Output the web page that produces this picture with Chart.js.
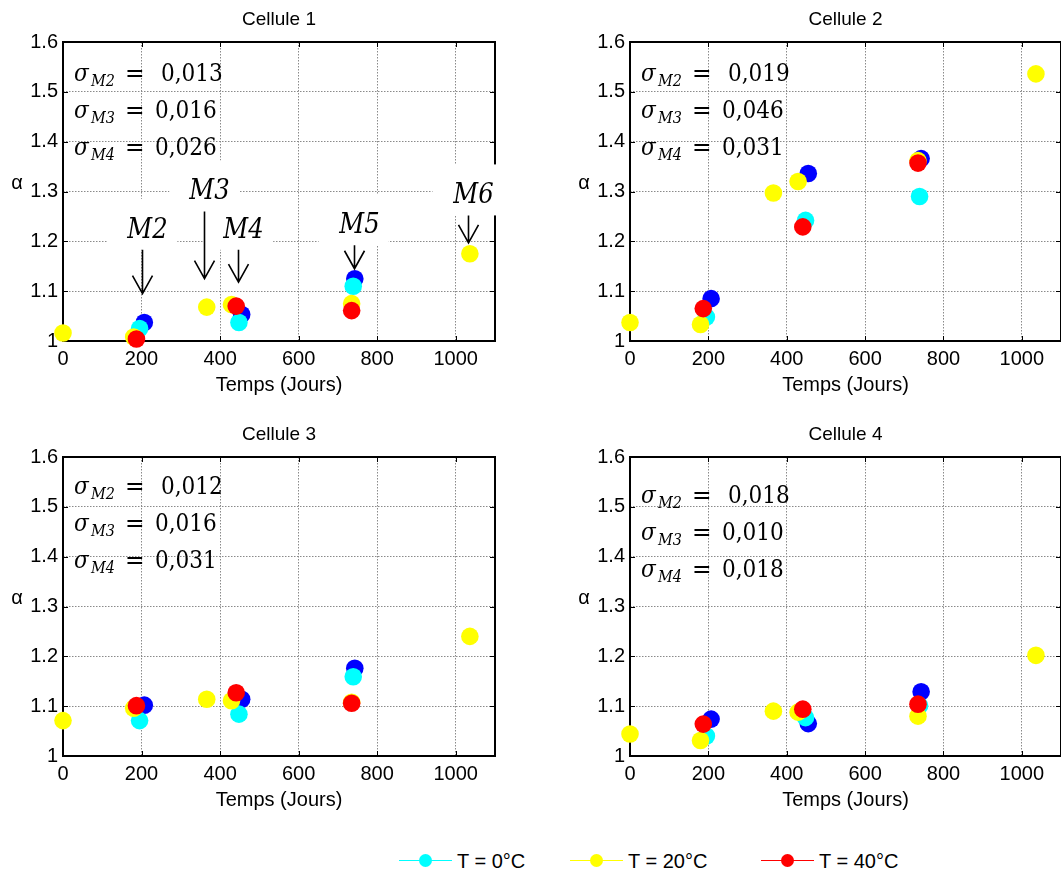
<!DOCTYPE html>
<html>
<head>
<meta charset="utf-8">
<script src="https://cdn.jsdelivr.net/npm/chart.js@4.4.1/dist/chart.umd.min.js"></script>
<style>
  html, body { margin: 0; padding: 0; background: #fff; }
  body { position: relative; width: 1061px; height: 874px; overflow: hidden; }
  canvas { position: absolute; }
  .leg { position: absolute; top: 849px; height: 24px; font: 20px "Liberation Sans", Arial, sans-serif; color: #000; }
  .leg .ln { position: absolute; top: 11px; width: 53px; height: 0; border-top: 1.5px solid; }
  .leg .dot { position: absolute; top: 5px; width: 13px; height: 13px; border-radius: 50%; }
  .leg .tx { position: absolute; top: 0; white-space: nowrap; line-height: 24px; }
</style>
</head>
<body>
<canvas id="cell1" width="530" height="410" style="left:0;top:0"></canvas>
<canvas id="cell2" width="560" height="410" style="left:530px;top:0"></canvas>
<canvas id="cell3" width="530" height="410" style="left:0;top:415px"></canvas>
<canvas id="cell4" width="560" height="410" style="left:530px;top:415px"></canvas>
<div id="legend"></div>

<script>
// ---------- données ----------
const cellTitles = ["Cellule 1", "Cellule 2", "Cellule 3", "Cellule 4"];
const xTicks = [0, 200, 400, 600, 800, 1000];
const yTicks = [1, 1.1, 1.2, 1.3, 1.4, 1.5, 1.6];

// jours de mesure par série
const daysT20 = [0, 180, 366, 429, 735, 1036];
const daysT40 = [187, 441, 735];
const daysT0 = [195, 448, 739];
const daysBlue = [207, 455, 743];

// alpha, une ligne par cellule
const alphaT20 = [
  [1.016, 1.008, 1.068, 1.073, 1.075, 1.175],
  [1.037, 1.033, 1.297, 1.320, 1.362, 1.536],
  [1.071, 1.096, 1.114, 1.111, 1.108, 1.240],
  [1.044, 1.031, 1.090, 1.088, 1.080, 1.202]
];
const alphaT40 = [
  [1.004, 1.070, 1.061],
  [1.065, 1.229, 1.357],
  [1.101, 1.127, 1.106],
  [1.064, 1.094, 1.104]
];
const alphaT0 = [
  [1.025, 1.037, 1.110],
  [1.048, 1.242, 1.290],
  [1.071, 1.084, 1.159],
  [1.040, 1.077, 1.101]
];
const alphaBlue = [
  [1.037, 1.053, 1.125],
  [1.085, 1.336, 1.366],
  [1.102, 1.114, 1.176],
  [1.074, 1.065, 1.129]
];

// écarts-types affichés
const sigmaM2 = ["0,013", "0,019", "0,012", "0,018"];
const sigmaM3 = ["0,016", "0,046", "0,016", "0,010"];
const sigmaM4 = ["0,026", "0,031", "0,031", "0,018"];
const sigmaTop = [1.522, 1.522, 1.526, 1.508];

// flèches M2..M6 (cellule 1 seulement)
const markLabels = ["M2", "M3", "M4", "M5", "M6"];
const markDays = [202, 360, 446, 740, 1030];
const markTop = [1.183, 1.26, 1.183, 1.192, 1.252];
const markTip = [1.095, 1.125, 1.118, 1.145, 1.197];

// légende
const legendLabels = ["T = 0°C", "T = 20°C", "T = 40°C"];
const legendColors = ["#00ffff", "#ffff00", "#ff0000"];

// ---------- mise en page ----------
const SANS = '"Liberation Sans", Arial, sans-serif';
const SERIF = '"DejaVu Serif Condensed", "DejaVu Serif", serif';

const matlabAxes = {
  id: "matlabAxes",
  beforeDatasetsDraw(chart) {
    const { ctx, chartArea: a, scales: { x, y } } = chart;
    ctx.save();
    ctx.strokeStyle = "#000";
    ctx.lineWidth = 1;
    ctx.beginPath();
    xTicks.forEach(v => {
      const px = Math.round(x.getPixelForValue(v)) + 0.5;
      ctx.moveTo(px, a.bottom); ctx.lineTo(px, a.bottom - 5);
      ctx.moveTo(px, a.top); ctx.lineTo(px, a.top + 5);
    });
    yTicks.forEach(v => {
      const py = Math.round(y.getPixelForValue(v)) + 0.5;
      ctx.moveTo(a.left, py); ctx.lineTo(a.left + 5, py);
      ctx.moveTo(a.right, py); ctx.lineTo(a.right - 5, py);
    });
    ctx.stroke();
    ctx.lineWidth = 2;
    ctx.strokeRect(a.left, a.top, a.right - a.left, a.bottom - a.top);
    ctx.restore();
  },
  afterDatasetsDraw(chart, args, opts) {
    const { ctx, chartArea: a, scales: { x, y } } = chart;
    const i = opts.cell;
    ctx.save();
    ctx.fillStyle = "#000";

    // sigma
    const sx = a.left + 11;
    const rows = [["M2", sigmaM2[i]], ["M3", sigmaM3[i]], ["M4", sigmaM4[i]]];
    rows.forEach((r, k) => {
      const by = y.getPixelForValue(sigmaTop[i]) + k * 37;
      ctx.textBaseline = "alphabetic";
      ctx.textAlign = "left";
      ctx.font = "italic 24px " + SERIF;
      ctx.fillText("σ", sx, by);
      ctx.font = "italic 16px " + SERIF;
      ctx.fillText(r[0], sx + 17, by + 5);
      ctx.font = "26px " + SERIF;
      ctx.fillText("=", sx + 51, by + 1);
      ctx.font = "24px " + SERIF;
      ctx.fillText(r[1], sx + (k === 0 ? 87 : 81), by);
    });

    // flèches M2..M6
    if (i === 0) {
      ctx.fillStyle = "#fff";
      markDays.forEach((d, k) => {
        const px = x.getPixelForValue(d);
        const top = y.getPixelForValue(markTop[k]);
        ctx.fillRect(px - 35, top - 51, 70, 51);
      });
      ctx.fillStyle = "#000";
      ctx.strokeStyle = "#000";
      ctx.lineWidth = 1.6;
      ctx.font = "italic 27px " + SERIF;
      ctx.textAlign = "center";
      markDays.forEach((d, k) => {
        const px = Math.round(x.getPixelForValue(d)) + 0.5;
        const top = y.getPixelForValue(markTop[k]);
        const tip = y.getPixelForValue(markTip[k]);
        ctx.fillText(markLabels[k], px + 5, top - 12);
        ctx.beginPath();
        ctx.moveTo(px, top); ctx.lineTo(px, tip);
        ctx.moveTo(px - 10, tip - 18); ctx.lineTo(px, tip); ctx.lineTo(px + 10, tip - 18);
        ctx.stroke();
      });
    }
    ctx.restore();
  },
  afterDraw(chart, args, opts) {
    const { ctx, chartArea: a } = chart;
    const cx = (a.left + a.right) / 2;
    ctx.save();
    ctx.fillStyle = "#000";
    ctx.textAlign = "center";
    ctx.textBaseline = "middle";
    ctx.font = "19px " + SANS;
    ctx.fillText(cellTitles[opts.cell], cx, a.top - 22);
    ctx.font = "20px " + SANS;
    ctx.fillText("Temps (Jours)", cx, a.bottom + 44);
    ctx.fillText("α", a.left - 46, a.top + 141);
    ctx.restore();
  }
};

function pts(days, vals) {
  return days.map((d, k) => ({ x: d, y: vals[k] }));
}

function makeDataset(label, color, days, vals) {
  return {
    label,
    data: pts(days, vals),
    showLine: false,
    pointRadius: 8.8,
    pointHoverRadius: 8.8,
    pointBorderWidth: 0,
    backgroundColor: color,
    borderColor: color,
    clip: false
  };
}

function drawCell(i) {
  const wide = i % 2 === 1;
  const yWidth = wide ? 100 : 63;
  const padRight = wide ? 29 : 35;
  // l'ordre : le premier jeu est dessiné au-dessus
  new Chart(document.getElementById("cell" + (i + 1)), {
    type: "scatter",
    data: {
      datasets: [
        makeDataset("T = 40°C", "#ff0000", daysT40, alphaT40[i]),
        makeDataset("T = 20°C", "#ffff00", daysT20, alphaT20[i]),
        makeDataset("T = 0°C", "#00ffff", daysT0, alphaT0[i]),
        makeDataset("T bleu", "#0000ff", daysBlue, alphaBlue[i])
      ]
    },
    options: {
      responsive: false,
      animation: false,
      devicePixelRatio: 1,
      layout: { padding: { top: 42, right: padRight, left: 0, bottom: 0 } },
      plugins: {
        legend: { display: false },
        tooltip: { enabled: false },
        matlabAxes: { cell: i }
      },
      scales: {
        x: {
          type: "linear",
          min: 0,
          max: 1100,
          afterBuildTicks: s => { s.ticks = xTicks.map(v => ({ value: v })); },
          afterFit: s => { s.height = 69; },
          grid: { color: "#8a8a8a", lineWidth: 1, drawTicks: false },
          border: { display: false, dash: [1.5, 1.5] },
          ticks: { color: "#000", font: { family: SANS, size: 20 }, padding: 6, maxRotation: 0, callback: v => String(v) }
        },
        y: {
          type: "linear",
          min: 1,
          max: 1.6,
          afterBuildTicks: s => { s.ticks = yTicks.map(v => ({ value: v })); },
          afterFit: s => { s.width = yWidth; },
          grid: { color: "#8a8a8a", lineWidth: 1, drawTicks: false },
          border: { display: false, dash: [1.5, 1.5] },
          ticks: { color: "#000", font: { family: SANS, size: 20 }, padding: 5, callback: v => String(Math.round(v * 10) / 10) }
        }
      }
    },
    plugins: [matlabAxes]
  });
}

[0, 1, 2, 3].forEach(drawCell);

// ---------- légende ----------
const legLeft = [399, 570, 761];
const legBox = document.getElementById("legend");
legendLabels.forEach((lab, k) => {
  const el = document.createElement("div");
  el.className = "leg";
  el.style.left = legLeft[k] + "px";
  el.innerHTML =
    '<div class="ln" style="left:0;border-color:' + legendColors[k] + '"></div>' +
    '<div class="dot" style="left:20px;background:' + legendColors[k] + '"></div>' +
    '<div class="tx" style="left:58px">' + lab + '</div>';
  legBox.appendChild(el);
});
</script>
</body>
</html>
